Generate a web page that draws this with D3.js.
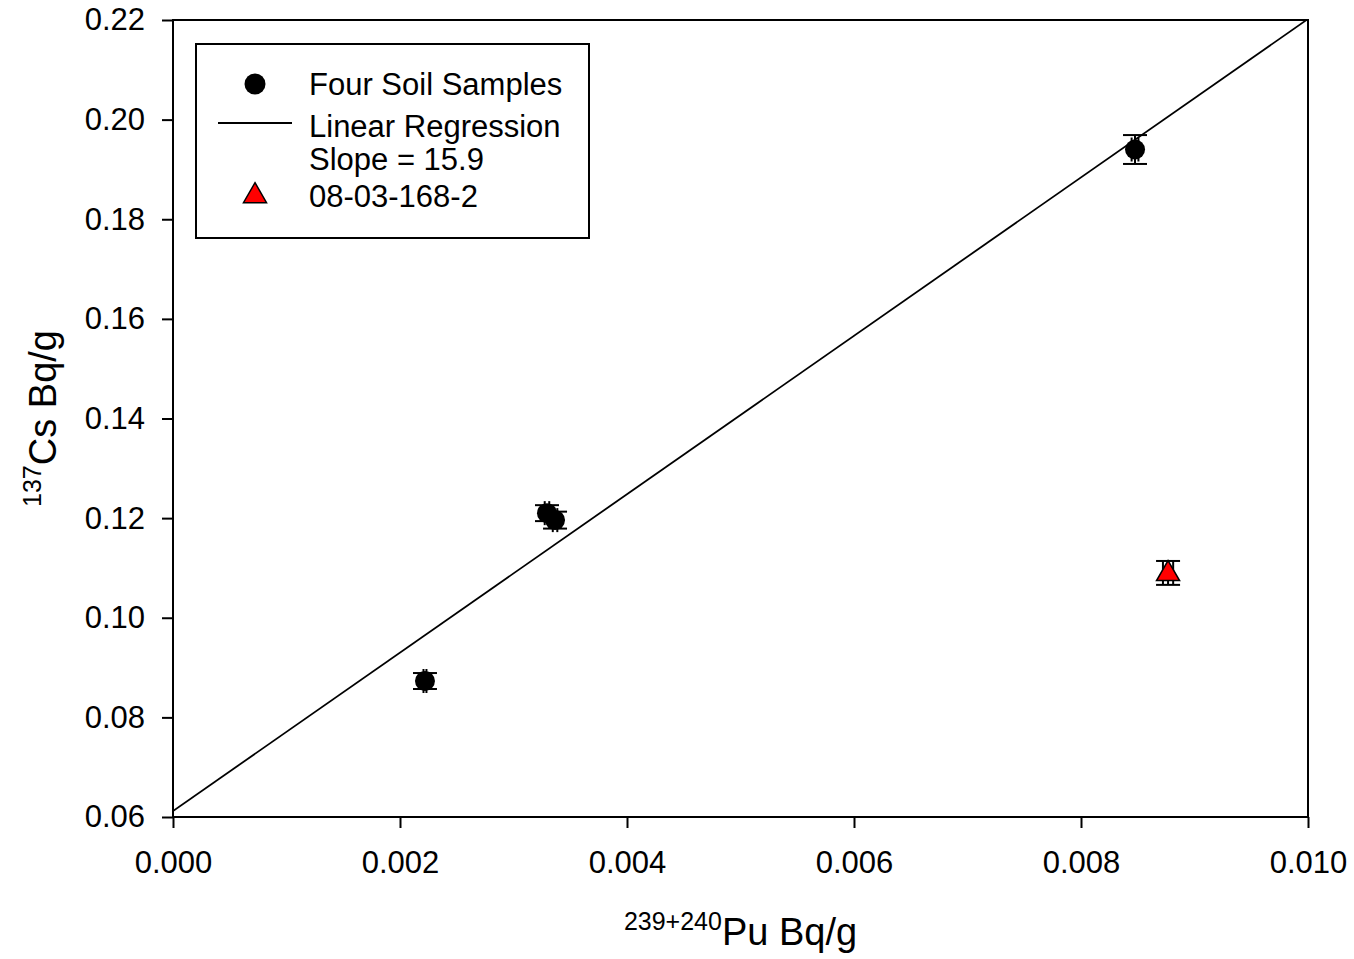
<!DOCTYPE html>
<html>
<head>
<meta charset="utf-8">
<script src="https://cdn.jsdelivr.net/npm/d3@7"></script>
<style>
  html, body { margin: 0; padding: 0; background: #fff; }
  svg { display: block; font-family: "Liberation Sans", Arial, sans-serif; }
</style>
</head>
<body>
<svg id="chart" width="1354" height="959"></svg>
<script>
// Soil samples: Pu vs Cs activity, with measurement uncertainties
const sampleX  = [0.00222, 0.003295, 0.003366, 0.008476];
const sampleY  = [0.0873, 0.1210, 0.1196, 0.1940];
const sampleEx = [0.000013, 0.00002, 0.00002, 0.00003];
const sampleEy = [0.0016, 0.0016, 0.0017, 0.0029];

// Outlier sample 08-03-168-2
const outlierX  = [0.008767];
const outlierY  = [0.1090];
const outlierEx = [0.000045];
const outlierEy = [0.0024];

// Linear regression through the four soil samples
const regSlope = 15.9;
const regIntercept = 0.0612;

const xTicks = [0.000, 0.002, 0.004, 0.006, 0.008, 0.010];
const yTicks = [0.06, 0.08, 0.10, 0.12, 0.14, 0.16, 0.18, 0.20, 0.22];

const legendLabels = ["Four Soil Samples", "Linear Regression", "Slope = 15.9", "08-03-168-2"];

const svg = d3.select("#chart");
const plot = { left: 173, right: 1308, top: 20, bottom: 817 };

const x = d3.scaleLinear().domain([0, 0.010]).range([plot.left, plot.right]);
const y = d3.scaleLinear().domain([0.06, 0.22]).range([plot.bottom, plot.top]);

const tickFont = 31;

// axes
const xAxis = d3.axisBottom(x).tickValues(xTicks).tickFormat(d3.format(".3f"))
  .tickSizeInner(11).tickSizeOuter(0).tickPadding(23);
const yAxis = d3.axisLeft(y).tickValues(yTicks).tickFormat(d3.format(".2f"))
  .tickSizeInner(11).tickSizeOuter(0).tickPadding(17);

const gx = svg.append("g").attr("transform", `translate(0,${plot.bottom})`).call(xAxis);
const gy = svg.append("g").attr("transform", `translate(${plot.left},0)`).call(yAxis);
[gx, gy].forEach(g => {
  g.select(".domain").remove();
  g.selectAll(".tick line").attr("stroke", "#000").attr("stroke-width", 2);
  g.selectAll(".tick text").attr("fill", "#000")
    .style("font-size", tickFont + "px")
    .style("font-family", "'Liberation Sans', Arial, sans-serif");
});

// clip for the regression line
svg.append("defs").append("clipPath").attr("id", "plotClip")
  .append("rect")
  .attr("x", plot.left).attr("y", plot.top)
  .attr("width", plot.right - plot.left).attr("height", plot.bottom - plot.top);

// regression line
const regLine = [0, 0.010].map(v => [v, regIntercept + regSlope * v]);
svg.append("path")
  .attr("clip-path", "url(#plotClip)")
  .attr("d", d3.line().x(d => x(d[0])).y(d => y(d[1]))(regLine))
  .attr("fill", "none").attr("stroke", "#000").attr("stroke-width", 1.8);

// error bars: vertical bar with horizontal caps, horizontal bar with vertical caps
const capHalf = 12;
function errorBars(g, xs, ys, exs, eys) {
  xs.forEach((xv, i) => {
    const cx = x(xv), cy = y(ys[i]);
    const y0 = y(ys[i] - eys[i]), y1 = y(ys[i] + eys[i]);
    const x0 = x(xv - exs[i]), x1 = x(xv + exs[i]);
    const eg = g.append("g").attr("stroke", "#000").attr("stroke-width", 2);
    eg.append("line").attr("x1", cx).attr("x2", cx).attr("y1", y0).attr("y2", y1);
    eg.append("line").attr("x1", cx - capHalf).attr("x2", cx + capHalf).attr("y1", y0).attr("y2", y0);
    eg.append("line").attr("x1", cx - capHalf).attr("x2", cx + capHalf).attr("y1", y1).attr("y2", y1);
    eg.append("line").attr("x1", x0).attr("x2", x1).attr("y1", cy).attr("y2", cy);
    eg.append("line").attr("x1", x0).attr("x2", x0).attr("y1", cy - capHalf).attr("y2", cy + capHalf);
    eg.append("line").attr("x1", x1).attr("x2", x1).attr("y1", cy - capHalf).attr("y2", cy + capHalf);
  });
}

const marks = svg.append("g");
errorBars(marks, sampleX, sampleY, sampleEx, sampleEy);
errorBars(marks, outlierX, outlierY, outlierEx, outlierEy);

const circleR = 10;
marks.selectAll("circle.sample").data(sampleX).join("circle")
  .attr("class", "sample")
  .attr("cx", d => x(d)).attr("cy", (d, i) => y(sampleY[i]))
  .attr("r", circleR).attr("fill", "#000");

const triSym = d3.symbol().type(d3.symbolTriangle).size(230);
marks.selectAll("path.outlier").data(outlierX).join("path")
  .attr("class", "outlier")
  .attr("transform", (d, i) => `translate(${x(d)},${y(outlierY[i]) + 1})`)
  .attr("d", triSym)
  .attr("fill", "#ff0000").attr("stroke", "#000").attr("stroke-width", 1.5);

// plot frame
svg.append("rect")
  .attr("x", plot.left).attr("y", plot.top)
  .attr("width", plot.right - plot.left).attr("height", plot.bottom - plot.top)
  .attr("fill", "none").attr("stroke", "#000").attr("stroke-width", 2);

// axis titles with superscript isotopes
const xTitle = svg.append("text")
  .attr("x", (plot.left + plot.right) / 2).attr("y", 945)
  .attr("text-anchor", "middle").attr("fill", "#000");
xTitle.append("tspan").attr("font-size", 25).attr("dy", -15).text("239+240");
xTitle.append("tspan").attr("font-size", 38).attr("dy", 15).text("Pu Bq/g");

const yTitle = svg.append("text")
  .attr("transform", `translate(56,${(plot.top + plot.bottom) / 2}) rotate(-90)`)
  .attr("text-anchor", "middle").attr("fill", "#000");
yTitle.append("tspan").attr("font-size", 25).attr("dy", -15).text("137");
yTitle.append("tspan").attr("font-size", 38).attr("dy", 15).text("Cs Bq/g");

// legend
const lg = svg.append("g");
lg.append("rect").attr("x", 196).attr("y", 44).attr("width", 393).attr("height", 194)
  .attr("fill", "#fff").attr("stroke", "#000").attr("stroke-width", 2);
lg.append("circle").attr("cx", 255).attr("cy", 84).attr("r", circleR + 0.5).attr("fill", "#000");
lg.append("line").attr("x1", 218).attr("x2", 292).attr("y1", 123).attr("y2", 123)
  .attr("stroke", "#000").attr("stroke-width", 1.8);
lg.append("path").attr("transform", "translate(255,196)").attr("d", triSym)
  .attr("fill", "#ff0000").attr("stroke", "#000").attr("stroke-width", 1.5);
const legendBaselines = [95, 137, 170, 207];
lg.selectAll("text").data(legendLabels).join("text")
  .attr("x", 309).attr("y", (d, i) => legendBaselines[i])
  .attr("font-size", 31).attr("fill", "#000").text(d => d);
</script>
</body>
</html>
